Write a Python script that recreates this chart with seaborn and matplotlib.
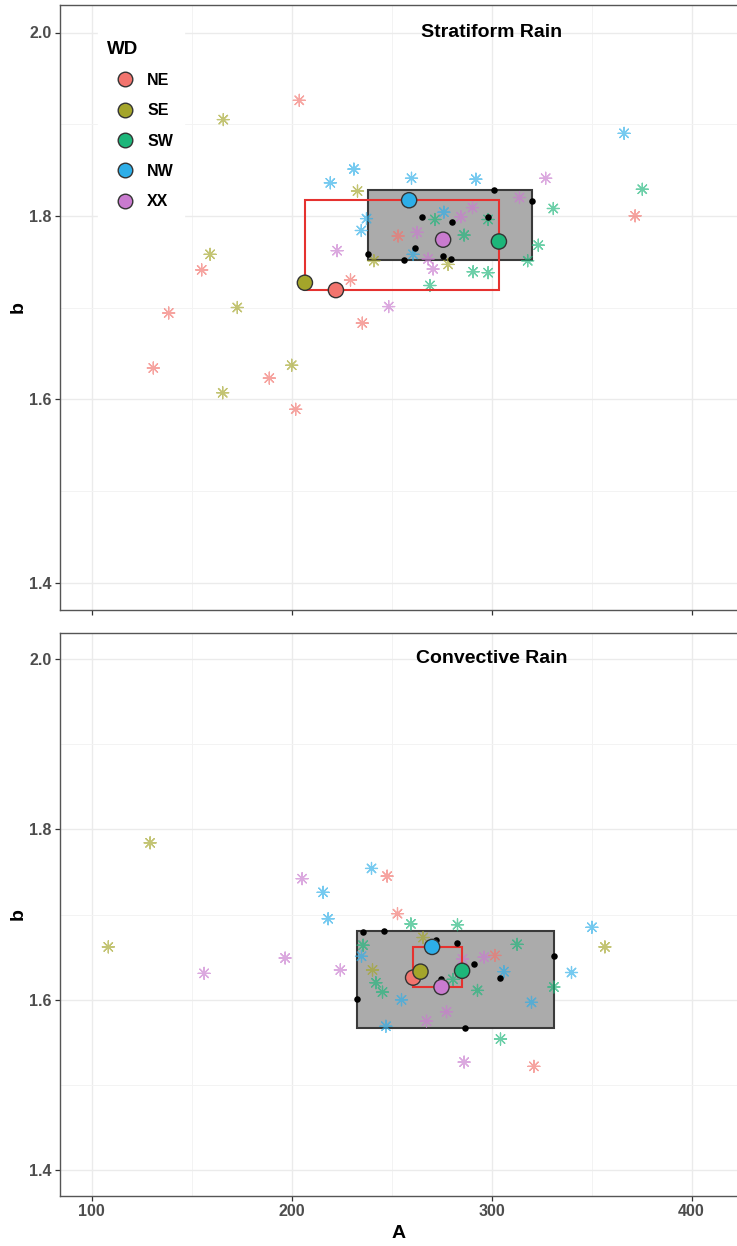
import numpy as np
import pandas as pd
import matplotlib
matplotlib.use("Agg")
import matplotlib.pyplot as plt
import seaborn as sns
from matplotlib.patches import Rectangle
from matplotlib.lines import Line2D

# ---------------- data ----------------
groups = ["NE", "SE", "SW", "NW", "XX"]
colors = ["#F2746E", "#A4A52A", "#1DB67A", "#2DAEE8", "#C97BCF"]

# Stratiform rain: individual (A, b) pairs per wind direction
st_NE_A = [203.9, 371.8, 155.1, 229.5, 138.6, 130.9, 188.9, 202.1, 235.4, 253.3]
st_NE_b = [1.926, 1.800, 1.741, 1.730, 1.694, 1.634, 1.623, 1.589, 1.683, 1.778]
st_SE_A = [165.9, 159.3, 172.9, 200.1, 165.6, 233.0, 241.2, 278.3]
st_SE_b = [1.905, 1.758, 1.700, 1.637, 1.607, 1.827, 1.751, 1.747]
st_SW_A = [375.4, 330.9, 323.4, 318.1, 271.7, 286.3, 298.3, 290.8, 298.3, 269.2]
st_SW_b = [1.829, 1.808, 1.768, 1.751, 1.796, 1.779, 1.796, 1.739, 1.738, 1.724]
st_NW_A = [366.3, 219.4, 231.2, 260.0, 292.2, 237.5, 234.9, 276.2, 260.8]
st_NW_b = [1.890, 1.836, 1.851, 1.841, 1.840, 1.797, 1.784, 1.804, 1.758]
st_XX_A = [327.1, 314.0, 290.5, 284.7, 262.8, 222.8, 268.3, 270.8, 248.6]
st_XX_b = [1.841, 1.820, 1.809, 1.799, 1.782, 1.762, 1.753, 1.742, 1.701]

# Stratiform: black reference points
st_dot_A = [301.3, 320.0, 265.3, 280.2, 298.2, 261.7, 238.3, 256.3, 275.8, 279.5]
st_dot_b = [1.828, 1.816, 1.799, 1.793, 1.799, 1.765, 1.758, 1.752, 1.756, 1.753]

# Stratiform: group summary points (order = groups)
st_mean_A = [222.2, 206.7, 303.7, 258.8, 275.8]
st_mean_b = [1.719, 1.727, 1.772, 1.817, 1.774]

# Convective rain
cv_NE_A = [247.8, 253.0, 301.7, 321.2]
cv_NE_b = [1.745, 1.701, 1.652, 1.522]
cv_SE_A = [129.3, 108.4, 265.8, 240.5, 356.7]
cv_SE_b = [1.784, 1.662, 1.673, 1.635, 1.662]
cv_SW_A = [259.7, 283.0, 235.8, 242.2, 245.5, 280.8, 293.0, 312.8, 331.2, 304.5]
cv_SW_b = [1.689, 1.688, 1.664, 1.620, 1.609, 1.624, 1.611, 1.665, 1.615, 1.554]
cv_NW_A = [240.0, 215.8, 218.3, 235.0, 255.0, 247.2, 306.2, 320.0, 340.0, 350.2]
cv_NW_b = [1.754, 1.726, 1.695, 1.651, 1.600, 1.569, 1.633, 1.597, 1.632, 1.685]
cv_XX_A = [205.3, 156.3, 196.8, 224.4, 267.5, 277.5, 285.5, 296.3, 286.3]
cv_XX_b = [1.742, 1.631, 1.649, 1.635, 1.575, 1.586, 1.648, 1.650, 1.527]

cv_dot_A = [235.8, 246.2, 272.0, 282.8, 331.2, 291.3, 304.2, 274.7, 232.8, 286.7]
cv_dot_b = [1.680, 1.681, 1.670, 1.667, 1.651, 1.642, 1.625, 1.624, 1.601, 1.567]

cv_mean_A = [260.8, 264.5, 285.3, 270.3, 275.0]
cv_mean_b = [1.626, 1.633, 1.634, 1.662, 1.615]

x_ticks = [100, 200, 300, 400]
y_ticks = [1.4, 1.6, 1.8, 2.0]


def stars_df(parts):
    rows = []
    for g, (A, b) in zip(groups, parts):
        for a, bb in zip(A, b):
            rows.append((g, a, bb))
    return pd.DataFrame(rows, columns=["WD", "A", "b"])


st_stars = stars_df([(st_NE_A, st_NE_b), (st_SE_A, st_SE_b), (st_SW_A, st_SW_b),
                     (st_NW_A, st_NW_b), (st_XX_A, st_XX_b)])
cv_stars = stars_df([(cv_NE_A, cv_NE_b), (cv_SE_A, cv_SE_b), (cv_SW_A, cv_SW_b),
                     (cv_NW_A, cv_NW_b), (cv_XX_A, cv_XX_b)])
st_dots = pd.DataFrame({"A": st_dot_A, "b": st_dot_b})
cv_dots = pd.DataFrame({"A": cv_dot_A, "b": cv_dot_b})
st_means = pd.DataFrame({"WD": groups, "A": st_mean_A, "b": st_mean_b})
cv_means = pd.DataFrame({"WD": groups, "A": cv_mean_A, "b": cv_mean_b})

# ---------------- style ----------------
sns.set_style("white")
plt.rcParams['font.family'] = ['Liberation Sans', 'DejaVu Sans']
plt.rcParams['font.weight'] = 'bold'
plt.rcParams['axes.labelweight'] = 'bold'
plt.rcParams['text.color'] = 'black'

palette = dict(zip(groups, colors))
W, H = 737, 1246
fig = plt.figure(figsize=(W / 100, H / 100), dpi=100)
ax1 = fig.add_axes([60 / W, 1 - 610 / H, 677 / W, 605 / H])
ax2 = fig.add_axes([60 / W, 1 - 1196 / H, 677 / W, 563 / H])


def panel(ax, stars, dots, means, title, show_x):
    ax.set_xlim(84.25, 422.75)
    ax.set_ylim(1.37, 2.03)
    ax.set_xticks(x_ticks)
    ax.set_xticks([150, 250, 350], minor=True)
    ax.set_yticks(y_ticks)
    ax.set_yticks([1.5, 1.7, 1.9], minor=True)
    ax.set_yticklabels([f"{v:.1f}" for v in y_ticks])
    ax.set_axisbelow(True)
    ax.grid(which="major", color="#EBEBEB", lw=1.0)
    ax.grid(which="minor", color="#F3F3F3", lw=0.7)
    ax.tick_params(which="major", direction="out", length=3.5, width=0.9,
                   color="#333333", labelsize=11.5, labelcolor="#4D4D4D", pad=2.5,
                   bottom=True, left=True)
    ax.tick_params(which="minor", length=0)
    for s in ["top", "bottom", "left"]:
        ax.spines[s].set_color("#555555")
        ax.spines[s].set_linewidth(1.0)
    ax.spines["right"].set_visible(False)

    # gray box spanning the black reference points
    x0, x1 = dots["A"].min(), dots["A"].max()
    y0, y1 = dots["b"].min(), dots["b"].max()
    ax.add_patch(Rectangle((x0, y0), x1 - x0, y1 - y0, facecolor="#ABABAB",
                           edgecolor="#3A3A3A", lw=1.5, zorder=1))

    sns.scatterplot(data=stars, x="A", y="b", hue="WD", palette=palette,
                    hue_order=groups, marker=(8, 2, 0), s=75, linewidth=0.9,
                    alpha=0.65, legend=False, ax=ax, zorder=2)

    # red box spanning group summary points
    mx0, mx1 = means["A"].min(), means["A"].max()
    my0, my1 = means["b"].min(), means["b"].max()
    ax.add_patch(Rectangle((mx0, my0), mx1 - mx0, my1 - my0, facecolor="none",
                           edgecolor="#E5322F", lw=1.5, zorder=3))

    sns.scatterplot(data=dots, x="A", y="b", color="black", s=22, linewidth=0,
                    legend=False, ax=ax, zorder=4)
    sns.scatterplot(data=means, x="A", y="b", hue="WD", palette=palette,
                    hue_order=groups, s=120, edgecolor="#333333", linewidth=1.0,
                    legend=False, ax=ax, zorder=5)

    ax.text(300, 2.0, title, ha="center", va="center", fontsize=14,
            fontweight="bold", color="black", zorder=6)
    ax.set_ylabel("b", fontsize=14, fontweight="bold", color="black")
    ax.yaxis.set_label_coords(-0.049, 0.5)
    if show_x:
        ax.set_xlabel("A", fontsize=14, fontweight="bold", color="black", labelpad=4)
    else:
        ax.set_xlabel("")
        ax.set_xticklabels([])


panel(ax1, st_stars, st_dots, st_means, "Stratiform Rain", False)
panel(ax2, cv_stars, cv_dots, cv_means, "Convective Rain", True)

handles = [Line2D([0], [0], marker="o", linestyle="none", markersize=10.5,
                  markerfacecolor=c, markeredgecolor="#333333", markeredgewidth=1.0)
           for c in colors]
leg = ax1.legend(handles, groups, title="WD", loc="upper left",
                 bbox_to_anchor=(0.044, 0.970), frameon=True, fancybox=False,
                 framealpha=1.0, edgecolor="white", facecolor="white",
                 prop={"size": 11.5, "weight": "bold"},
                 title_fontproperties={"size": 13.5, "weight": "bold"},
                 labelspacing=0.96, handletextpad=0.30, borderpad=0.6,
                 handlelength=2.2, labelcolor="black")
leg.get_title().set_color("black")
leg._legend_box.align = "left"
leg.set_zorder(10)

fig.savefig("out.png", dpi=100)
